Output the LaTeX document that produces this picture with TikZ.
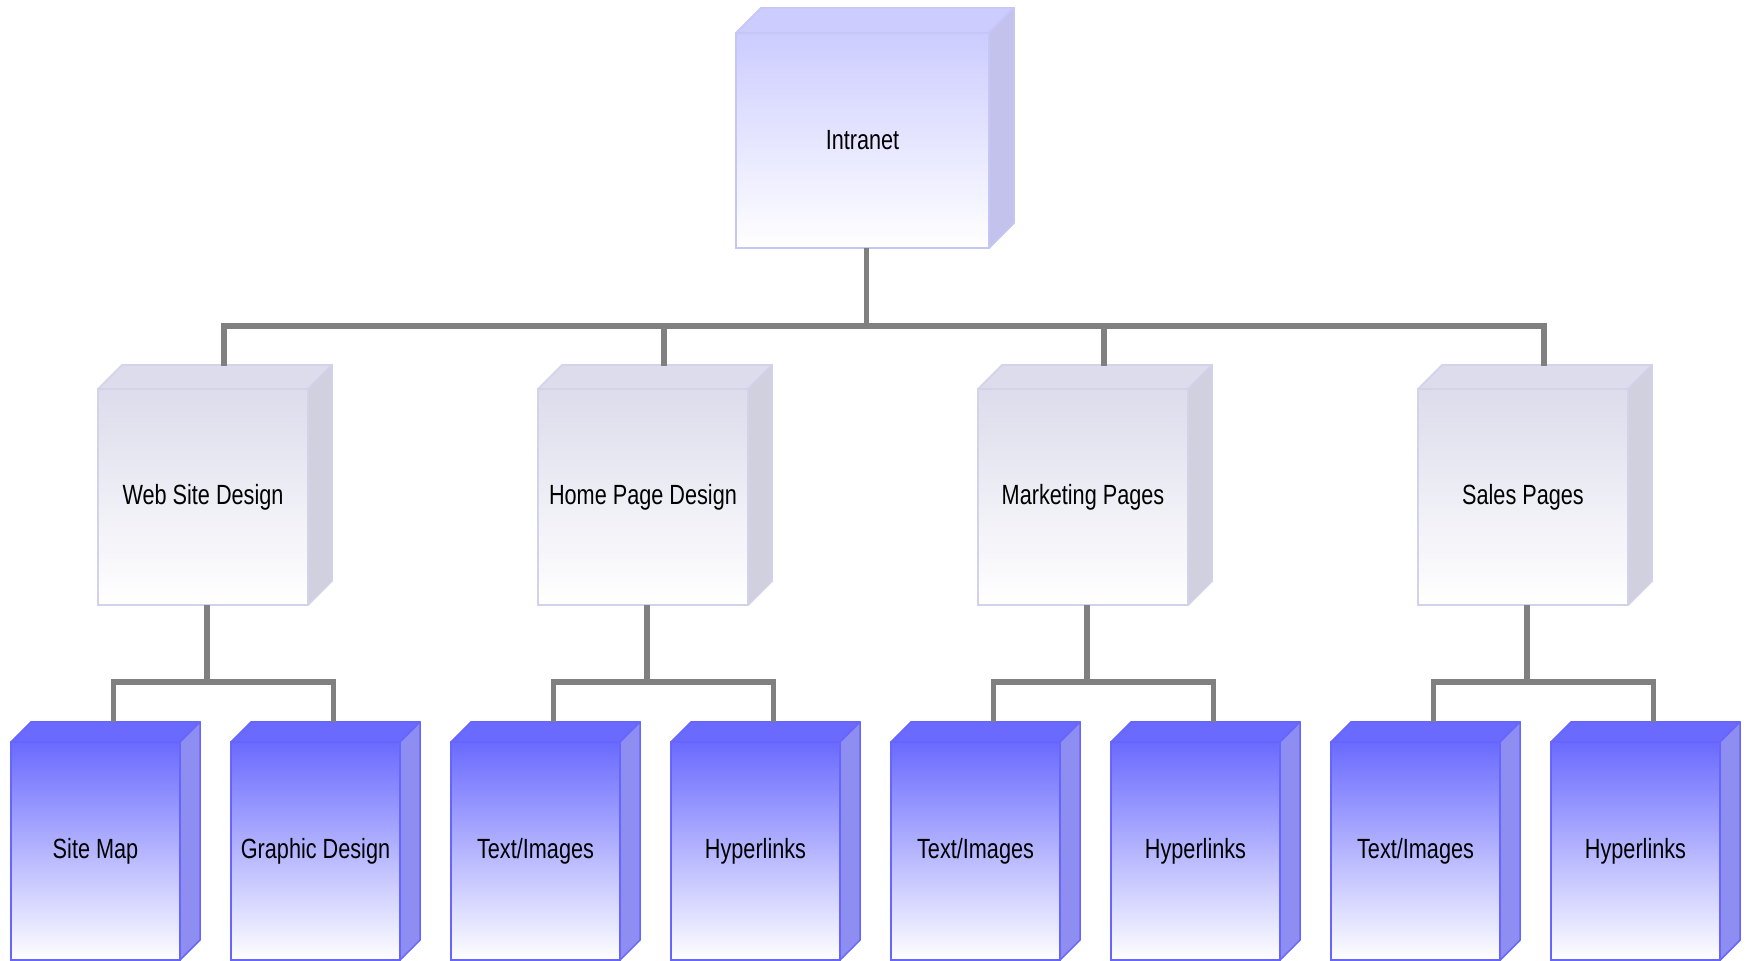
\documentclass[tikz,border=0pt]{standalone}
\usepackage{fontspec}
\setmainfont{Liberation Sans}[FakeStretch=0.78]
\usetikzlibrary{positioning}
\usetikzlibrary{calc}
\usepackage{xcolor}

\definecolor{topone}{HTML}{CCCCFF}
\definecolor{sideone}{HTML}{C2C2EC}
\definecolor{lineone}{HTML}{C6C6F6}
\definecolor{toptwo}{HTML}{DCDCEC}
\definecolor{sidetwo}{HTML}{D0D0DE}
\definecolor{linetwo}{HTML}{D2D2EA}
\definecolor{topthree}{HTML}{6A6AFF}
\definecolor{sidethree}{HTML}{8E8EF2}
\definecolor{linethree}{HTML}{6666FF}
\definecolor{linkgray}{HTML}{808080}

\tikzset{
  frontbox/.style={draw, rectangle, inner sep=0pt, outer sep=0pt, line width=0.45pt,
    bottom color=white, align=center, font=\fontsize{7.9}{9.5}\selectfont},
  lvlone/.style={frontbox, draw=lineone, top color=topone, minimum width=2.53cm, minimum height=2.15cm},
  lvltwo/.style={frontbox, draw=linetwo, top color=toptwo, minimum width=2.10cm, minimum height=2.16cm},
  lvlthree/.style={frontbox, draw=linethree, top color=topthree, minimum width=1.69cm, minimum height=2.18cm},
  link/.style={draw=linkgray, line width=1.6pt},
}

% top and side faces of a box: node, depth, face colour, side colour, edge colour
\newcommand{\boxfaces}[5]{%
  \filldraw[fill=#3, draw=#5, line width=0.45pt, line join=round]
    (#1.north west) -- ++(#2,-#2) -- ($(#1.north east)+(#2,-#2)$) -- (#1.north east) -- cycle;
  \filldraw[fill=#4, draw=#5, line width=0.45pt, line join=round]
    (#1.north east) -- ++(#2,-#2) -- ($(#1.south east)+(#2,-#2)$) -- (#1.south east) -- cycle;
}

\begin{document}
\begin{tikzpicture}[x=0.01cm, y=-0.01cm]
  \useasboundingbox (0,0) rectangle (1748,961);

  % Top level
  \node[lvlone] (intranet) at (862.5,140.5) {Intranet};

  % Second level
  \node[lvltwo] (webdesign) at (203,497) {Web Site Design};
  \node[lvltwo] (homepage) at (643,497) {Home Page Design};
  \node[lvltwo] (marketing) at (1083,497) {Marketing Pages};
  \node[lvltwo] (sales) at (1523,497) {Sales Pages};

  % Third level
  \node[lvlthree] (sitemap) at (95.5,851) {Site Map};
  \node[lvlthree] (graphic) at (315.5,851) {Graphic Design};
  \node[lvlthree] (hometext) at (535.5,851) {Text/Images};
  \node[lvlthree] (homelinks) at (755.5,851) {Hyperlinks};
  \node[lvlthree] (marktext) at (975.5,851) {Text/Images};
  \node[lvlthree] (marklinks) at (1195.5,851) {Hyperlinks};
  \node[lvlthree] (salestext) at (1415.5,851) {Text/Images};
  \node[lvlthree] (saleslinks) at (1635.5,851) {Hyperlinks};

  % Box depth
  \boxfaces{intranet}{25}{topone}{sideone}{lineone}
  \foreach \b in {webdesign,homepage,marketing,sales}
    \boxfaces{\b}{24}{toptwo}{sidetwo}{linetwo};
  \foreach \b in {sitemap,graphic,hometext,homelinks,marktext,marklinks,salestext,saleslinks}
    \boxfaces{\b}{20}{topthree}{sidethree}{linethree};

  % Bus lines
  \coordinate (busone) at (0,326);
  \coordinate (bustwo) at (0,682);

  \draw[link] ([xshift=0.04cm]intranet.south) -- ([xshift=0.04cm]intranet.south |- busone) -| ($(webdesign.north)+(21,-23)$);
  \draw[link] ([xshift=0.04cm]intranet.south |- busone) -| ($(homepage.north)+(21,-23)$);
  \draw[link] ([xshift=0.04cm]intranet.south |- busone) -| ($(marketing.north)+(21,-23)$);
  \draw[link] ([xshift=0.04cm]intranet.south |- busone) -| ($(sales.north)+(21,-23)$);

  \draw[link] ([xshift=0.04cm]webdesign.south) -- ([xshift=0.04cm]webdesign.south |- bustwo) -| ($(sitemap.north)+(18,-20)$);
  \draw[link] ([xshift=0.04cm]webdesign.south |- bustwo) -| ($(graphic.north)+(18,-20)$);
  \draw[link] ([xshift=0.04cm]homepage.south) -- ([xshift=0.04cm]homepage.south |- bustwo) -| ($(hometext.north)+(18,-20)$);
  \draw[link] ([xshift=0.04cm]homepage.south |- bustwo) -| ($(homelinks.north)+(18,-20)$);
  \draw[link] ([xshift=0.04cm]marketing.south) -- ([xshift=0.04cm]marketing.south |- bustwo) -| ($(marktext.north)+(18,-20)$);
  \draw[link] ([xshift=0.04cm]marketing.south |- bustwo) -| ($(marklinks.north)+(18,-20)$);
  \draw[link] ([xshift=0.04cm]sales.south) -- ([xshift=0.04cm]sales.south |- bustwo) -| ($(salestext.north)+(18,-20)$);
  \draw[link] ([xshift=0.04cm]sales.south |- bustwo) -| ($(saleslinks.north)+(18,-20)$);
\end{tikzpicture}
\end{document}
